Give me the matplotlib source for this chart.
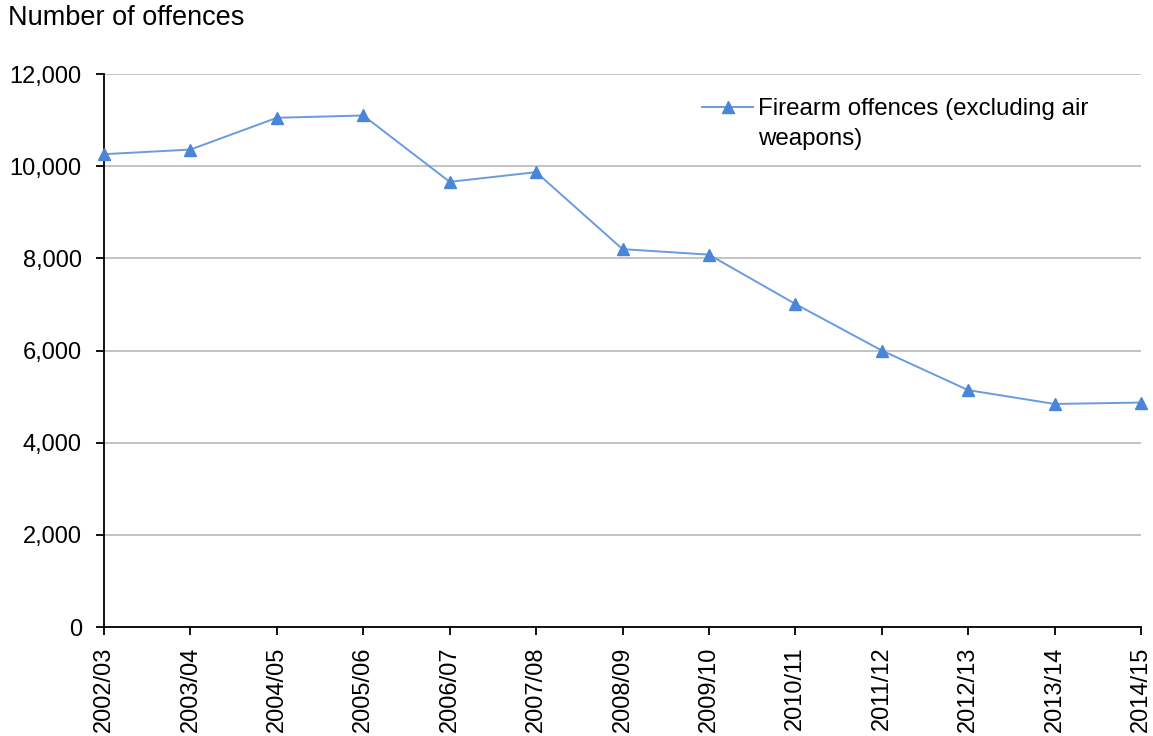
import matplotlib.pyplot as plt
from matplotlib.lines import Line2D
from matplotlib.ticker import FuncFormatter, MultipleLocator

plt.rcParams['font.family'] = ['Liberation Sans', 'DejaVu Sans']

years = ["2002/03", "2003/04", "2004/05", "2005/06", "2006/07", "2007/08",
         "2008/09", "2009/10", "2010/11", "2011/12", "2012/13", "2013/14",
         "2014/15"]
offences = [10260, 10360, 11050, 11100, 9660, 9870, 8200, 8080, 7010,
            6000, 5140, 4840, 4870]
series_label = ["Firearm offences (excluding air", "weapons)"]

fig = plt.figure(figsize=(11.53, 7.36), dpi=100)
ax = fig.add_axes([104 / 1153, 1 - 627 / 736, (1141 - 104) / 1153, (627 - 74) / 736])

x = list(range(len(years)))
line, = ax.plot(x, offences, color="#6A9BE0", lw=1.4, marker="^", ms=8.5,
                mfc="#4A85D8", mec="#4A85D8", clip_on=False, zorder=3)

ax.set_xlim(0, len(years) - 1)
ax.set_ylim(0, 12000)
ax.yaxis.set_major_locator(MultipleLocator(2000))
ax.yaxis.set_major_formatter(FuncFormatter(lambda v, p: f"{int(v):,}"))
ax.set_xticks(x)
ax.set_xticklabels(years, rotation=90)
ax.grid(axis="y", color="#BEBEBE", lw=1.3)
ax.set_axisbelow(True)

for s in ["top", "right"]:
    ax.spines[s].set_visible(False)
for s in ["left", "bottom"]:
    ax.spines[s].set_color("black")
    ax.spines[s].set_linewidth(1.3)
ax.tick_params(axis="both", direction="out", length=6, width=1.3,
               labelsize=17, colors="black")
ax.tick_params(axis="y", pad=10)
ax.tick_params(axis="x", pad=8)

fig.text(8 / 1153, 1 - 18 / 736, "Number of offences", fontsize=19.5,
         va="center", ha="left")

blank = Line2D([], [], color="none")
ax.legend([line, blank], series_label, loc="upper left",
          bbox_to_anchor=(0.577, 0.956), frameon=False, fontsize=17.4,
          handlelength=2.1, handletextpad=0.2, borderpad=0, borderaxespad=0,
          labelspacing=0.32)

fig.savefig("out.png", dpi=100)
